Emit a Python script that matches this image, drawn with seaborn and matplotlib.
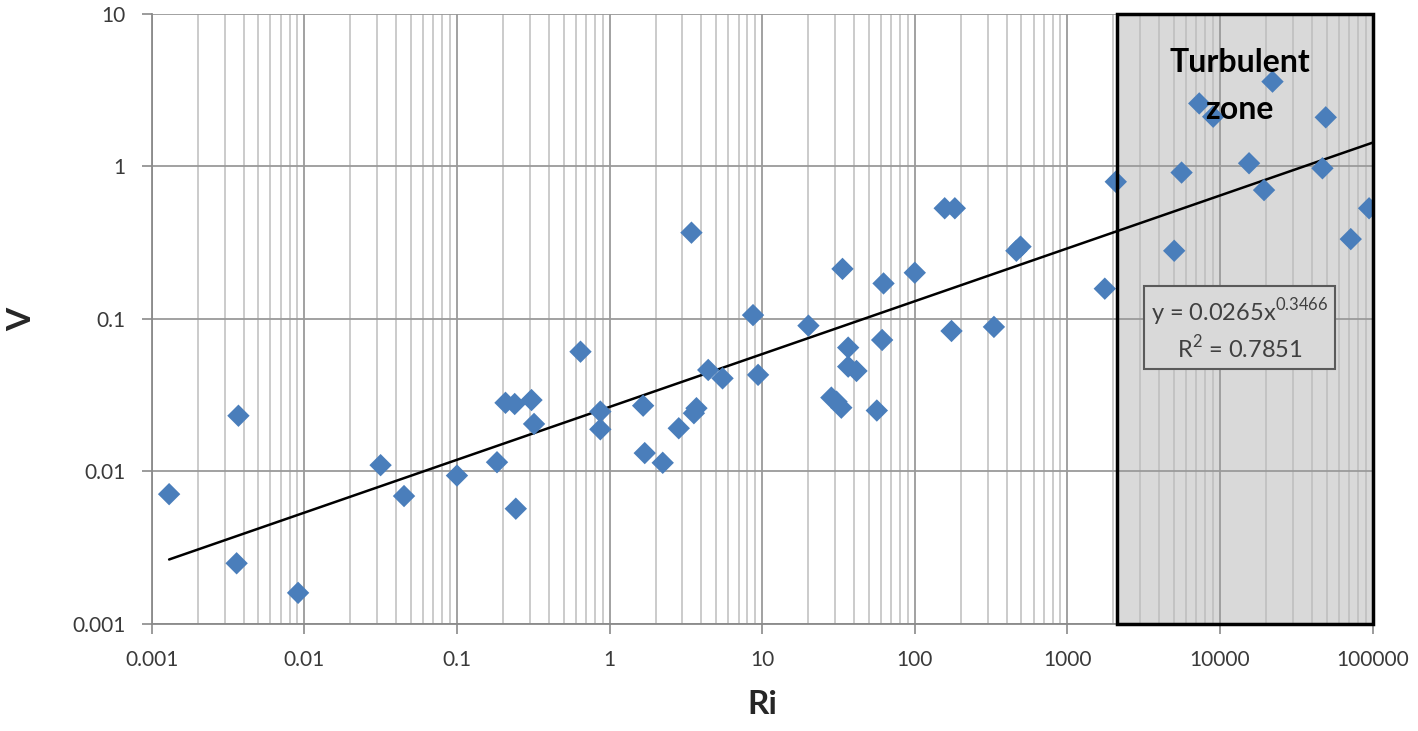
import numpy as np
import pandas as pd
import matplotlib
matplotlib.use("Agg")
import matplotlib.pyplot as plt
import seaborn as sns
from matplotlib.patches import Rectangle

# ---- data ----
ri = [0.0013, 0.0036, 0.0037, 0.0091, 0.0316, 0.045, 0.1, 0.183, 0.243, 0.208,
      0.239, 0.308, 0.32, 0.645, 0.87, 0.87, 1.66, 1.70, 2.23, 2.84,
      3.44, 3.57, 3.71, 4.43, 5.5, 8.71, 9.4, 20.1, 28.4, 30.7,
      33.0, 33.6, 36.6, 36.6, 41.5, 56.4, 61.1, 62.4, 100, 157,
      183, 174, 330, 463, 493, 1758, 2075, 5010, 5600, 7310,
      9020, 15500, 19430, 22080, 46900, 49300, 71900, 94800]
v = [0.0071, 0.0025, 0.0232, 0.0016, 0.011, 0.0069, 0.0094, 0.0115, 0.0057, 0.0282,
     0.0277, 0.0294, 0.0205, 0.061, 0.0247, 0.0189, 0.027, 0.0132, 0.0114, 0.0192,
     0.368, 0.0241, 0.026, 0.0463, 0.0408, 0.106, 0.043, 0.0904, 0.0305, 0.0287,
     0.0262, 0.213, 0.0649, 0.0487, 0.0456, 0.0251, 0.0728, 0.171, 0.201, 0.532,
     0.532, 0.0834, 0.0887, 0.28, 0.298, 0.158, 0.794, 0.28, 0.912, 2.59,
     2.12, 1.05, 0.70, 3.6, 0.973, 2.1, 0.334, 0.532]

fit_a = 0.0265
fit_b = 0.3466
fit_r2 = 0.7851
fit_x = [0.0013, 100000]

zone_x = [2100, 100000]

xticks = [0.001, 0.01, 0.1, 1, 10, 100, 1000, 10000, 100000]
xtick_labels = ["0.001", "0.01", "0.1", "1", "10", "100", "1000", "10000", "100000"]
yticks = [0.001, 0.01, 0.1, 1, 10]
ytick_labels = ["0.001", "0.01", "0.1", "1", "10"]

df = pd.DataFrame({"Ri": ri, "V": v})

sns.set_style("white")
plt.rcParams["font.family"] = ["Lato", "DejaVu Sans"]
plt.rcParams["mathtext.fontset"] = "custom"
plt.rcParams["mathtext.rm"] = "Lato"

fig = plt.figure(figsize=(14.18, 7.31), dpi=100)
ax = fig.add_axes([0.107, 0.1464, 0.861, 0.8345])

ax.set_xscale("log")
ax.set_yscale("log")
ax.set_xlim(xticks[0], xticks[-1])
ax.set_ylim(yticks[0], yticks[-1])

# grid
ax.set_axisbelow(True)
ax.xaxis.grid(True, which="major", color="#9a9a9a", lw=1.3, zorder=0.5)
ax.xaxis.grid(True, which="minor", color="#bdbdbd", lw=1.1, zorder=0.5)
ax.yaxis.grid(True, which="major", color="#9a9a9a", lw=1.3, zorder=0.5)
ax.yaxis.grid(False, which="minor")

# turbulent zone
ax.add_patch(Rectangle((zone_x[0], yticks[0]), zone_x[1] - zone_x[0], yticks[-1] - yticks[0],
                       facecolor="#d9d9d9", edgecolor="none", zorder=0.2))
ax.add_patch(Rectangle((zone_x[0], yticks[0]), zone_x[1] - zone_x[0], yticks[-1] - yticks[0],
                       facecolor="none", edgecolor="black", lw=2.5, zorder=4, clip_on=False))

# trend line
fx = np.logspace(np.log10(fit_x[0]), np.log10(fit_x[1]), 200)
sns.lineplot(x=fx, y=fit_a * fx ** fit_b, color="black", lw=1.8, ax=ax, zorder=2)

# data points
sns.scatterplot(data=df, x="Ri", y="V", marker="D", s=130, color="#4a7ebb",
                edgecolor="none", ax=ax, zorder=3)

ax.set_xticks(xticks)
ax.set_xticklabels(xtick_labels)
ax.set_yticks(yticks)
ax.set_yticklabels(ytick_labels)
ax.tick_params(axis="both", which="major", labelsize=15, labelcolor="#3a3a3a",
               color="#8a8a8a", length=7, width=1.2, direction="out", bottom=True, left=True)
ax.tick_params(axis="both", which="minor", length=0)
ax.tick_params(axis="x", pad=12)
ax.tick_params(axis="y", pad=12)

for s in ["top", "right"]:
    ax.spines[s].set_visible(False)
for s in ["left", "bottom"]:
    ax.spines[s].set_color("#8a8a8a")
    ax.spines[s].set_linewidth(1.3)

ax.set_xlabel("Ri", fontsize=24, fontweight="bold", labelpad=14)
ax.set_ylabel("V", fontsize=24, fontweight="bold", labelpad=26)

ax.text(0.891, 0.882, "Turbulent\nzone", transform=ax.transAxes, ha="center", va="center",
        fontsize=23, fontweight="bold", color="black", linespacing=1.75, zorder=6)

ax.text(0.891, 0.4836, "y = 0.0265x$^{0.3466}$\nR$^2$ = 0.7851", transform=ax.transAxes,
        ha="center", va="center", multialignment="center", fontsize=17, color="#404040",
        zorder=6, linespacing=1.25,
        bbox=dict(boxstyle="square,pad=0.3", facecolor="#d9d9d9", edgecolor="#5a5a5a", lw=1.5))

fig.savefig("out.png", dpi=100)
